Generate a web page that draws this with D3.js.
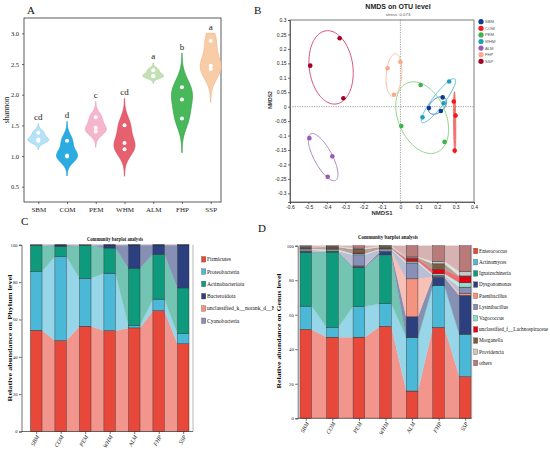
<!DOCTYPE html>
<html>
<head>
<meta charset="utf-8">
<script src="https://cdn.jsdelivr.net/npm/d3@7"></script>
<style>
body { margin: 0; background: #fff; }
svg { display: block; }
.serif { font-family: "Liberation Serif", "DejaVu Serif", serif; }
.sans { font-family: "Liberation Sans", Arial, sans-serif; }
.axis path, .axis line { stroke: #333; stroke-width: 0.7; }
.axis text { fill: #222; }
</style>
</head>
<body>
<svg id="fig" width="550" height="457"></svg>
<script>
var groups = [ 'SBM', 'COM', 'PEM', 'WHM', 'ALM', 'FHP', 'SSP' ];

// A: shannon index, three samples per group
var shannon = [
    [ 1.38, 1.27, 1.25 ],
    [ 1.25, 1.01, 0.99 ],
    [ 1.63, 1.46, 1.40 ],
    [ 1.50, 1.21, 1.11 ],
    [ 2.40, 2.31, 2.30 ],
    [ 2.12, 1.92, 1.61 ],
    [ 2.88, 2.47, 2.42 ]
];
var sigLetters = [ 'cd', 'd', 'c', 'cd', 'a', 'b', 'a' ];
var shannonTicks = [ 0.5, 1.0, 1.5, 2.0, 2.5, 3.0 ];
var violinFill = [ '#b7e1f6', '#2aabe2', '#f5b5cc', '#e6606f', '#c3e1b5', '#49b85b', '#f7cca7' ];
var violinLine = [ '#8fd1f1', '#1b9bd6', '#eda2bd', '#d94b5d', '#a9d59c', '#36a149', '#f1b98c' ];

// B: NMDS scores, three samples per group
var nmdsX = [
    [ 0.23, 0.155, 0.22 ],
    [ 0.29, 0.30, 0.295 ],
    [ 0.11, 0.005, 0.24 ],
    [ 0.265, 0.235, 0.12 ],
    [ -0.495, -0.37, -0.395 ],
    [ -0.07, 0.0, -0.035 ],
    [ -0.33, -0.49, -0.31 ]
];
var nmdsY = [
    [ 0.032, -0.005, -0.015 ],
    [ 0.018, -0.031, -0.152 ],
    [ 0.075, -0.067, -0.122 ],
    [ 0.087, 0.012, -0.037 ],
    [ -0.109, -0.172, -0.243 ],
    [ 0.133, 0.155, 0.041 ],
    [ 0.237, 0.142, 0.029 ]
];
var nmdsTicksX = [ -0.6, -0.5, -0.4, -0.3, -0.2, -0.1, 0, 0.1, 0.2, 0.3, 0.4 ];
var nmdsTicksY = [ 0.3, 0.25, 0.2, 0.15, 0.1, 0.05, 0, -0.05, -0.1, -0.15, -0.2, -0.25, -0.3 ];
var pointColor = [ '#0b3d91', '#f01818', '#3cb44b', '#1aa0b8', '#9b59b6', '#f9a98c', '#a50026' ];
var ellipseColor = [ '#3a6fb5', '#f07070', '#8fd68a', '#58c0d8', '#a888c0', '#f7bfa5', '#d5527a' ];

// C: phylum level relative abundance (%)
var phylumNames = [ 'Firmicutes', 'Proteobacteria', 'Actinobacteriota', 'Bacteroidota', 'unclassified_k__norank_d__Bacteria', 'Cyanobacteria' ];
var phylumColors = [ '#e8483a', '#4cb8d8', '#0e9a7c', '#2c3f7e', '#f4937f', '#8890b8' ];
var firmicutes       = [ 54.2, 48.7, 56.4, 54.0, 55.5, 64.7, 47.0 ];
var proteobacteria   = [ 31.5, 45.0, 25.7, 30.8, 1.4, 6.2, 5.4 ];
var actinobacteriota = [ 14.1, 5.5, 17.7, 13.5, 30.6, 24.0, 24.5 ];
var bacteroidota     = [ 0.0, 0.7, 0.0, 1.6, 12.4, 5.0, 23.0 ];
var unclassBacteria  = [ 0.1, 0.05, 0.1, 0.05, 0.05, 0.05, 0.05 ];
var cyanobacteria    = [ 0.1, 0.05, 0.1, 0.05, 0.05, 0.05, 0.05 ];

// D: genus level relative abundance (%)
var genusNames = [ 'Enterococcus', 'Actinomyces', 'Ignatzschineria', 'Dysgonomonas', 'Paenibacillus', 'Lysinibacillus', 'Vagococcus', 'unclassified_f__Lachnospiraceae', 'Morganella', 'Providencia', 'others' ];
var genusColors = [ '#e8483a', '#4cb8d8', '#0e9a7c', '#2c3f7e', '#f4937f', '#8890b8', '#8fdfcc', '#e60012', '#7b5b43', '#c9c9c9', '#b97a7a' ];
var enterococcus    = [ 51.5, 47.0, 47.0, 53.3, 15.8, 52.7, 24.1 ];
var actinomyces     = [ 13.5, 5.7, 17.8, 13.1, 31.1, 24.1, 24.6 ];
var ignatzschineria = [ 31.0, 43.6, 22.6, 28.3, 0.1, 0.3, 0.2 ];
var dysgonomonas    = [ 0.7, 0.3, 0.6, 1.8, 11.8, 4.6, 22.3 ];
var paenibacillus   = [ 0.2, 0.1, 0.3, 0.2, 22.0, 0.5, 1.3 ];
var lysinibacillus  = [ 0.8, 0.3, 6.4, 1.0, 9.2, 0.6, 3.5 ];
var vagococcus      = [ 0.7, 1.0, 0.8, 0.6, 1.0, 0.9, 2.5 ];
var lachnospiraceae = [ 0.2, 0.2, 0.3, 0.2, 1.5, 2.5, 3.5 ];
var morganella      = [ 0.5, 1.0, 2.2, 0.8, 0.5, 3.3, 0.5 ];
var providencia     = [ 0.3, 0.5, 0.6, 0.5, 0.5, 1.5, 2.5 ];
var others          = [ 0.6, 0.3, 1.4, 0.2, 6.5, 9.0, 15.0 ];

var svg = d3.select( '#fig' );

function panelLetter( label, x, y ) {
    svg.append( 'text' ).attr( 'class', 'serif' )
        .attr( 'x', x ).attr( 'y', y )
        .attr( 'fill', '#111' )
        .style( 'font-size', '11px' )
        .text( label );
}

/* ---------- A: violins ---------- */
var xA = d3.scalePoint().domain( groups ).range( [ 38.3, 210.7 ] ),
    yA = d3.scaleLinear().domain( [ 0.25, 3.25 ] ).range( [ 202, 18 ] ),
    violinHalf = 10.5,
    violinCap = 3.0;

var gA = svg.append( 'g' );

gA.append( 'rect' )
    .attr( 'x', 24 ).attr( 'y', 18 )
    .attr( 'width', 197 ).attr( 'height', 184 )
    .attr( 'fill', 'none' ).attr( 'stroke', '#333' ).attr( 'stroke-width', 0.8 );

gA.append( 'g' ).attr( 'class', 'axis serif' )
    .attr( 'transform', 'translate(24,0)' )
    .call( d3.axisLeft( yA ).tickValues( shannonTicks ).tickFormat( d3.format( '.1f' ) ).tickSize( 2 ).tickPadding( 3 ) )
    .call( function( g ) { g.select( '.domain' ).remove(); } )
    .selectAll( 'text' ).style( 'font-size', '6.5px' );

gA.append( 'g' ).attr( 'class', 'axis serif' )
    .attr( 'transform', 'translate(0,202)' )
    .call( d3.axisBottom( xA ).tickSize( 2 ).tickPadding( 3 ) )
    .call( function( g ) { g.select( '.domain' ).remove(); } )
    .selectAll( 'text' ).style( 'font-size', '7px' );

gA.append( 'text' ).attr( 'class', 'serif' )
    .attr( 'transform', 'translate(9,110) rotate(-90)' )
    .attr( 'text-anchor', 'middle' )
    .attr( 'fill', '#222' )
    .style( 'font-size', '8px' )
    .text( 'shannon' );

shannon.forEach( function( vals, i ) {
    var cx = xA( groups[ i ] ),
        n = vals.length,
        bw = 0.9 * d3.deviation( vals ) * Math.pow( n, -0.2 ),
        lo = d3.min( vals ) - 3 * bw,
        hi = Math.min( d3.max( vals ) + 3 * bw, violinCap );

    var steps = d3.range( 0, 121 ).map( function( k ) { return lo + ( hi - lo ) * k / 120; } );
    var dens = steps.map( function( y ) {
        return {
            y: y,
            d: d3.sum( vals, function( v ) { var z = ( y - v ) / bw; return Math.exp( -0.5 * z * z ); } )
        };
    } );
    var dmax = d3.max( dens, function( d ) { return d.d; } );

    var area = d3.area()
        .y( function( d ) { return yA( d.y ); } )
        .x0( function( d ) { return cx - violinHalf * d.d / dmax; } )
        .x1( function( d ) { return cx + violinHalf * d.d / dmax; } )
        .curve( d3.curveBasis );

    gA.append( 'path' )
        .attr( 'd', area( dens ) )
        .attr( 'fill', violinFill[ i ] )
        .attr( 'stroke', violinLine[ i ] )
        .attr( 'stroke-width', 0.8 );

    gA.selectAll( null ).data( vals ).enter().append( 'circle' )
        .attr( 'cx', cx )
        .attr( 'cy', function( v ) { return yA( v ); } )
        .attr( 'r', 2 )
        .attr( 'fill', '#fff' );

    gA.append( 'text' ).attr( 'class', 'serif' )
        .attr( 'x', cx ).attr( 'y', yA( hi ) - 3.5 )
        .attr( 'text-anchor', 'middle' )
        .attr( 'fill', '#1a1a1a' )
        .style( 'font-size', '9px' )
        .text( sigLetters[ i ] );
} );

panelLetter( 'A', 27, 14 );

/* ---------- B: NMDS ---------- */
var xB = d3.scaleLinear().domain( [ -0.6, 0.4 ] ).range( [ 290, 474 ] ),
    yB = d3.scaleLinear().domain( [ -0.33, 0.3 ] ).range( [ 202, 20 ] ),
    ellipseK = 1.22,
    tickFmt = function( d ) { return String( +d.toFixed( 2 ) ); };

var gB = svg.append( 'g' );

gB.append( 'g' ).attr( 'class', 'axis sans' )
    .attr( 'transform', 'translate(0,202)' )
    .call( d3.axisBottom( xB ).tickValues( nmdsTicksX ).tickFormat( tickFmt ).tickSize( 2 ).tickPadding( 1.5 ) )
    .selectAll( 'text' ).style( 'font-size', '5px' );

gB.append( 'g' ).attr( 'class', 'axis sans' )
    .attr( 'transform', 'translate(290,0)' )
    .call( d3.axisLeft( yB ).tickValues( nmdsTicksY ).tickFormat( tickFmt ).tickSize( 2 ).tickPadding( 1.5 ) )
    .selectAll( 'text' ).style( 'font-size', '5px' );

gB.append( 'rect' )
    .attr( 'x', 290 ).attr( 'y', 20 )
    .attr( 'width', 184 ).attr( 'height', 182 )
    .attr( 'fill', 'none' ).attr( 'stroke', '#444' ).attr( 'stroke-width', 0.7 );

gB.append( 'line' )
    .attr( 'x1', xB( 0 ) ).attr( 'x2', xB( 0 ) ).attr( 'y1', 20 ).attr( 'y2', 202 )
    .attr( 'stroke', '#777' ).attr( 'stroke-width', 0.7 ).attr( 'stroke-dasharray', '1.2,1.2' );
gB.append( 'line' )
    .attr( 'x1', 290 ).attr( 'x2', 474 ).attr( 'y1', yB( 0 ) ).attr( 'y2', yB( 0 ) )
    .attr( 'stroke', '#777' ).attr( 'stroke-width', 0.7 ).attr( 'stroke-dasharray', '1.2,1.2' );

function ellipsePoints( xs, ys ) {
    var n = xs.length,
        mx = d3.mean( xs ), my = d3.mean( ys ),
        a = d3.variance( xs ), c = d3.variance( ys ),
        b = d3.sum( xs, function( x, i ) { return ( x - mx ) * ( ys[ i ] - my ); } ) / ( n - 1 ),
        mid = ( a + c ) / 2,
        root = Math.sqrt( ( a - c ) * ( a - c ) / 4 + b * b ),
        r1 = ellipseK * Math.sqrt( mid + root ),
        r2 = ellipseK * Math.sqrt( Math.max( mid - root, 0 ) ),
        th = 0.5 * Math.atan2( 2 * b, a - c );

    return d3.range( 0, 120 ).map( function( k ) {
        var t = k / 120 * 2 * Math.PI,
            u = r1 * Math.cos( t ), v = r2 * Math.sin( t );
        return [ xB( mx + u * Math.cos( th ) - v * Math.sin( th ) ), yB( my + u * Math.sin( th ) + v * Math.cos( th ) ) ];
    } );
}

var ellipseLine = d3.line().curve( d3.curveLinearClosed );

groups.forEach( function( grp, i ) {
    gB.append( 'path' )
        .attr( 'd', ellipseLine( ellipsePoints( nmdsX[ i ], nmdsY[ i ] ) ) )
        .attr( 'fill', grp === 'COM' ? ellipseColor[ i ] : 'none' )
        .attr( 'stroke', ellipseColor[ i ] )
        .attr( 'stroke-width', 1 );
} );

groups.forEach( function( grp, i ) {
    gB.selectAll( null ).data( nmdsX[ i ] ).enter().append( 'circle' )
        .attr( 'cx', function( x ) { return xB( x ); } )
        .attr( 'cy', function( x, j ) { return yB( nmdsY[ i ][ j ] ); } )
        .attr( 'r', 2.3 )
        .attr( 'fill', pointColor[ i ] );
} );

var legB = gB.selectAll( '.legB' ).data( groups ).enter().append( 'g' )
    .attr( 'transform', function( d, i ) { return 'translate(481,' + ( 21.7 + i * 6.6 ) + ')'; } );
legB.append( 'circle' ).attr( 'r', 2.6 ).attr( 'fill', function( d, i ) { return pointColor[ i ]; } );
legB.append( 'text' ).attr( 'class', 'sans' )
    .attr( 'x', 4 ).attr( 'dy', '0.35em' )
    .style( 'font-size', '4.2px' ).attr( 'fill', '#555' )
    .text( function( d ) { return d; } );

gB.append( 'text' ).attr( 'class', 'sans' )
    .attr( 'x', 398 ).attr( 'y', 9 )
    .attr( 'text-anchor', 'middle' )
    .style( 'font-size', '7px' ).style( 'font-weight', 'bold' ).attr( 'fill', '#222' )
    .text( 'NMDS on OTU level' );
gB.append( 'text' ).attr( 'class', 'sans' )
    .attr( 'x', 398 ).attr( 'y', 16 )
    .attr( 'text-anchor', 'middle' )
    .style( 'font-size', '4.3px' ).attr( 'fill', '#555' )
    .text( 'stress :0.073' );
gB.append( 'text' ).attr( 'class', 'sans' )
    .attr( 'x', 382 ).attr( 'y', 215 )
    .attr( 'text-anchor', 'middle' )
    .style( 'font-size', '6px' ).style( 'font-weight', 'bold' ).attr( 'fill', '#333' )
    .text( 'NMDS1' );
gB.append( 'text' ).attr( 'class', 'sans' )
    .attr( 'transform', 'translate(272,100) rotate(-90)' )
    .attr( 'text-anchor', 'middle' )
    .style( 'font-size', '5px' ).style( 'font-weight', 'bold' ).attr( 'fill', '#333' )
    .text( 'NMDS2' );

panelLetter( 'B', 254, 14 );

/* ---------- C and D: stacked barplots ---------- */
function barplot( g, cfg ) {
    var x = d3.scalePoint().domain( groups ).range( cfg.xRange ),
        y = d3.scaleLinear().domain( [ 0, 100 ] ).range( cfg.yRange ),
        half = cfg.barW / 2,
        left = cfg.axisLeft, right = cfg.axisRight;

    var rows = groups.map( function( grp, i ) {
        var r = { group: grp };
        cfg.names.forEach( function( nm, k ) { r[ nm ] = cfg.values[ k ][ i ]; } );
        return r;
    } );
    var series = d3.stack().keys( cfg.names )( rows );

    // connecting bands between neighbouring bars
    series.forEach( function( s, k ) {
        var light = d3.interpolateRgb( cfg.colors[ k ], '#fff' )( 0.42 );
        for( var i = 0; i < groups.length - 1; i++ ) {
            var a = s[ i ], b = s[ i + 1 ],
                xa = x( groups[ i ] ) + half,
                xb = x( groups[ i + 1 ] ) - half;
            g.append( 'path' )
                .attr( 'd', 'M' + [ xa, y( a[ 1 ] ) ] + 'L' + [ xb, y( b[ 1 ] ) ] + 'L' + [ xb, y( b[ 0 ] ) ] + 'L' + [ xa, y( a[ 0 ] ) ] + 'Z' )
                .attr( 'fill', light )
                .attr( 'stroke', light ).attr( 'stroke-width', 0.3 );
        }
    } );

    series.forEach( function( s, k ) {
        g.selectAll( null ).data( s.filter( function( d ) { return d[ 1 ] - d[ 0 ] > 0; } ) ).enter().append( 'rect' )
            .attr( 'x', function( d ) { return x( d.data.group ) - half; } )
            .attr( 'y', function( d ) { return y( d[ 1 ] ); } )
            .attr( 'width', cfg.barW )
            .attr( 'height', function( d ) { return y( d[ 0 ] ) - y( d[ 1 ] ); } )
            .attr( 'fill', cfg.colors[ k ] )
            .attr( 'stroke', '#2a2a2a' ).attr( 'stroke-width', 0.4 );
    } );

    // frame
    g.append( 'line' )
        .attr( 'x1', right ).attr( 'x2', right ).attr( 'y1', cfg.yRange[ 1 ] ).attr( 'y2', cfg.yRange[ 0 ] )
        .attr( 'stroke', '#999' ).attr( 'stroke-width', 0.7 );

    g.append( 'g' ).attr( 'class', 'axis serif' )
        .attr( 'transform', 'translate(' + left + ',0)' )
        .call( d3.axisLeft( y ).tickValues( [ 0, 20, 40, 60, 80, 100 ] ).tickSize( 2.5 ).tickPadding( 1.5 ) )
        .selectAll( 'text' ).style( 'font-size', '4.6px' );

    var xAxis = g.append( 'g' ).attr( 'class', 'axis serif' )
        .attr( 'transform', 'translate(0,' + cfg.yRange[ 0 ] + ')' )
        .call( d3.axisBottom( x ).tickSize( 2.5 ) );
    xAxis.select( '.domain' ).attr( 'd', 'M' + left + ',0H' + right );
    xAxis.selectAll( 'text' )
        .attr( 'x', -3 ).attr( 'y', 3 ).attr( 'dy', '0.35em' )
        .attr( 'transform', 'rotate(-60)' )
        .style( 'text-anchor', 'end' )
        .style( 'font-size', '5.8px' ).style( 'font-style', 'italic' );

    g.append( 'text' ).attr( 'class', 'serif' )
        .attr( 'x', cfg.title[ 0 ] ).attr( 'y', cfg.title[ 1 ] )
        .attr( 'text-anchor', 'middle' )
        .attr( 'textLength', cfg.title[ 2 ] ).attr( 'lengthAdjust', 'spacingAndGlyphs' )
        .attr( 'fill', '#111' )
        .style( 'font-size', '6.2px' ).style( 'font-weight', 'bold' )
        .text( 'Community barplot analysis' );

    g.append( 'text' ).attr( 'class', 'serif' )
        .attr( 'transform', 'translate(' + cfg.yLabel[ 0 ] + ',' + cfg.yLabel[ 1 ] + ') rotate(-90)' )
        .attr( 'text-anchor', 'middle' )
        .attr( 'textLength', cfg.yLabel[ 2 ] ).attr( 'lengthAdjust', 'spacingAndGlyphs' )
        .attr( 'fill', '#111' )
        .style( 'font-size', '6px' ).style( 'font-weight', 'bold' )
        .text( cfg.yText );

    var leg = g.selectAll( null ).data( cfg.names ).enter().append( 'g' )
        .attr( 'transform', function( d, i ) { return 'translate(' + cfg.legend[ 0 ] + ',' + ( cfg.legend[ 1 ] + i * cfg.legend[ 2 ] ) + ')'; } );
    leg.append( 'rect' )
        .attr( 'x', 0 ).attr( 'y', -2.8 ).attr( 'width', 4.3 ).attr( 'height', 5.6 )
        .attr( 'fill', function( d, i ) { return cfg.colors[ i ]; } )
        .attr( 'stroke', '#444' ).attr( 'stroke-width', 0.3 );
    leg.append( 'text' ).attr( 'class', 'serif' )
        .attr( 'x', 5.5 ).attr( 'dy', '0.35em' )
        .attr( 'fill', '#111' )
        .style( 'font-size', cfg.legendFont )
        .text( function( d ) { return d; } );
}

svg.append( 'defs' ).append( 'clipPath' ).attr( 'id', 'clipC' )
    .append( 'rect' ).attr( 'x', 0 ).attr( 'y', 215 ).attr( 'width', 274 ).attr( 'height', 242 );

barplot( svg.append( 'g' ).attr( 'clip-path', 'url(#clipC)' ), {
    names: phylumNames,
    colors: phylumColors,
    values: [ firmicutes, proteobacteria, actinobacteriota, bacteroidota, unclassBacteria, cyanobacteria ],
    xRange: [ 36.2, 183.2 ],
    yRange: [ 431.5, 244.8 ],
    barW: 11.6,
    axisLeft: 21.5,
    axisRight: 193,
    title: [ 115, 240.5, 56 ],
    yLabel: [ 12, 338, 127 ],
    yText: 'Relative abundance on Phylum level',
    legend: [ 201.5, 259.3, 12.3 ],
    legendFont: '5.6px'
} );

barplot( svg.append( 'g' ), {
    names: genusNames,
    colors: genusColors,
    values: [ enterococcus, actinomyces, ignatzschineria, dysgonomonas, paenibacillus, lysinibacillus, vagococcus, lachnospiraceae, morganella, providencia, others ],
    xRange: [ 305.8, 465.2 ],
    yRange: [ 418.3, 245.7 ],
    barW: 11.7,
    axisLeft: 297.7,
    axisRight: 471.7,
    title: [ 388, 239, 60 ],
    yLabel: [ 281, 331, 115 ],
    yText: 'Relative abundance on Genus level',
    legend: [ 473.5, 251, 11.2 ],
    legendFont: '5.2px'
} );

panelLetter( 'C', 21, 225 );
panelLetter( 'D', 258, 232 );
</script>
</body>
</html>
